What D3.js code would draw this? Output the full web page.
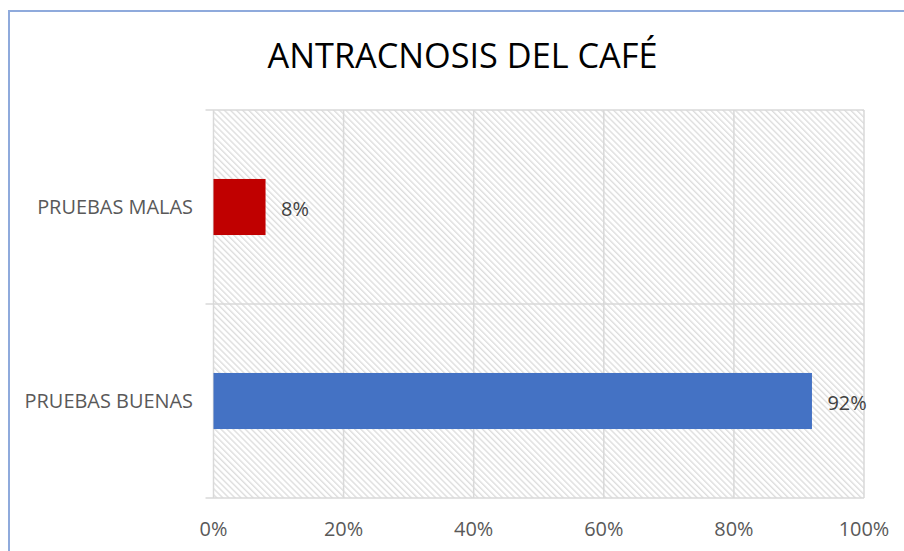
<!DOCTYPE html>
<html><head><meta charset="utf-8">
<script src="https://cdn.jsdelivr.net/npm/d3@7/dist/d3.min.js"></script>
<style>html,body{margin:0;padding:0;background:#fff;}svg{display:block;}</style>
</head><body>
<script>
const title = "ANTRACNOSIS DEL CAFÉ";
const categories = ["PRUEBAS MALAS", "PRUEBAS BUENAS"];
const values = [0.08, 0.92];
const barColors = ["#C00000", "#4472C4"];
const tickValues = [0, 0.2, 0.4, 0.6, 0.8, 1.0];

const W = 904, H = 551;
const font = "'Open Sans', sans-serif";
const svg = d3.select("body").append("svg").attr("width", W).attr("height", H);

const plot = {left: 213.5, right: 864, top: 110, bottom: 498};

// hatch pattern
const defs = svg.append("defs");
const pat = defs.append("pattern").attr("id", "hatch").attr("patternUnits", "userSpaceOnUse")
  .attr("width", 8).attr("height", 4.3).attr("patternTransform", "rotate(45)");
pat.append("rect").attr("width", 8).attr("height", 4.3).attr("fill", "#fff");
pat.append("line").attr("x1", 0).attr("x2", 8).attr("y1", 1).attr("y2", 1)
  .attr("stroke", "#d9d9d9").attr("stroke-width", 1.2);

// chart border
svg.append("path").attr("d", `M9,${H} L9,11 L${W},11`).attr("fill", "none")
  .attr("stroke", "#8FAADC").attr("stroke-width", 2);

const x = d3.scaleLinear().domain([0, 1]).range([plot.left, plot.right]);
const y = d3.scaleBand().domain(categories).range([plot.top, plot.bottom])
  .paddingInner(0.711).paddingOuter(0.3555);

svg.append("rect").attr("x", plot.left).attr("y", plot.top)
  .attr("width", plot.right - plot.left).attr("height", plot.bottom - plot.top)
  .attr("fill", "url(#hatch)");

// vertical gridlines
svg.append("g").selectAll("line").data(tickValues).join("line")
  .attr("x1", d => x(d)).attr("x2", d => x(d))
  .attr("y1", plot.top).attr("y2", plot.bottom)
  .attr("stroke", "#d9d9d9").attr("stroke-width", 1.5);

// category boundaries (ticks + horizontal lines)
const step = y.step();
const bounds = [plot.top, plot.top + step, plot.bottom];
svg.append("g").selectAll("line").data(bounds).join("line")
  .attr("x1", plot.left - 8).attr("x2", plot.right)
  .attr("y1", d => d).attr("y2", d => d)
  .attr("stroke", "#d9d9d9").attr("stroke-width", 1.5);

// bars
svg.append("g").selectAll("rect").data(values).join("rect")
  .attr("x", x(0)).attr("y", (d, i) => y(categories[i]))
  .attr("width", d => x(d) - x(0)).attr("height", y.bandwidth())
  .attr("fill", (d, i) => barColors[i]);

function fit(sel, target) {
  const n = sel.node();
  const w = n.getComputedTextLength();
  const fs = parseFloat(sel.attr("font-size"));
  sel.attr("font-size", fs * target / w);
}

// title
const t = svg.append("text").attr("x", 462.5).attr("y", 68).attr("text-anchor", "middle")
  .attr("font-family", font).attr("font-size", 28).attr("fill", "#000").text(title);
fit(t, 390);

// category labels
const cl = svg.append("g").selectAll("text").data(categories).join("text")
  .attr("x", 193).attr("y", d => y(d) + y.bandwidth() / 2 + 7)
  .attr("text-anchor", "end").attr("font-family", font).attr("font-size", 16)
  .attr("fill", "#595959").text(d => d);
const w0 = cl.nodes()[0].getComputedTextLength();
cl.attr("font-size", 16 * 156 / w0);
const labFS = 16 * 156 / w0;

// tick labels
svg.append("g").selectAll("text").data(tickValues).join("text")
  .attr("x", d => x(d)).attr("y", 536).attr("text-anchor", "middle")
  .attr("font-family", font).attr("font-size", labFS).attr("fill", "#595959")
  .text(d => d3.format(".0%")(d));

// data labels
svg.append("g").selectAll("text").data(values).join("text")
  .attr("x", d => x(d) + 15.5).attr("y", (d, i) => y(categories[i]) + y.bandwidth() / 2 + 8.5)
  .attr("font-family", font).attr("font-size", labFS).attr("fill", "#404040")
  .text(d => d3.format(".0%")(d));
</script>
</body></html>
